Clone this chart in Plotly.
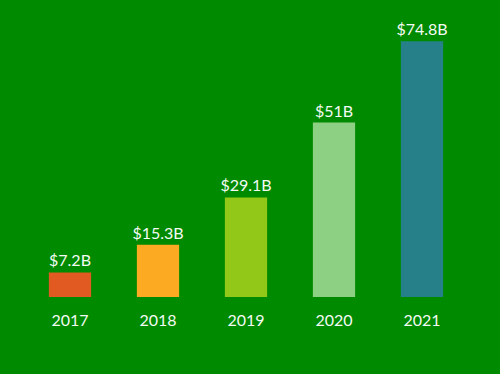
import plotly.graph_objects as go

years = ["2017", "2018", "2019", "2020", "2021"]
values = [7.2, 15.3, 29.1, 51, 74.8]
labels = ["$7.2B", "$15.3B", "$29.1B", "$51B", "$74.8B"]
colors = ["#E05A22", "#FCAA22", "#92C817", "#8DCF83", "#25808A"]

fig = go.Figure(go.Bar(
    x=years, y=values, text=labels, textposition="outside",
    constraintext="none",
    marker=dict(color=colors, line=dict(width=0)),
    textfont=dict(color="#F4FBF4", size=16, family="Lato"),
    cliponaxis=False,
))
fig.update_layout(
    width=500, height=374,
    paper_bgcolor="#008A00", plot_bgcolor="#008A00",
    margin=dict(l=26, r=34, t=20, b=77),
    bargap=0.52,
    showlegend=False,
    font=dict(family="Lato", color="#F4FBF4", size=16),
    xaxis=dict(showgrid=False, showline=False, zeroline=False, ticks="",
               tickfont=dict(size=16, color="#F4FBF4"), ticklabelstandoff=12),
    yaxis=dict(range=[0, 81], visible=False, showgrid=False, zeroline=False),
)
fig.write_html("out.html", config={"displayModeBar": False},
               post_script="document.body.style.margin='0';document.body.style.padding='0';document.body.style.overflow='hidden';")
